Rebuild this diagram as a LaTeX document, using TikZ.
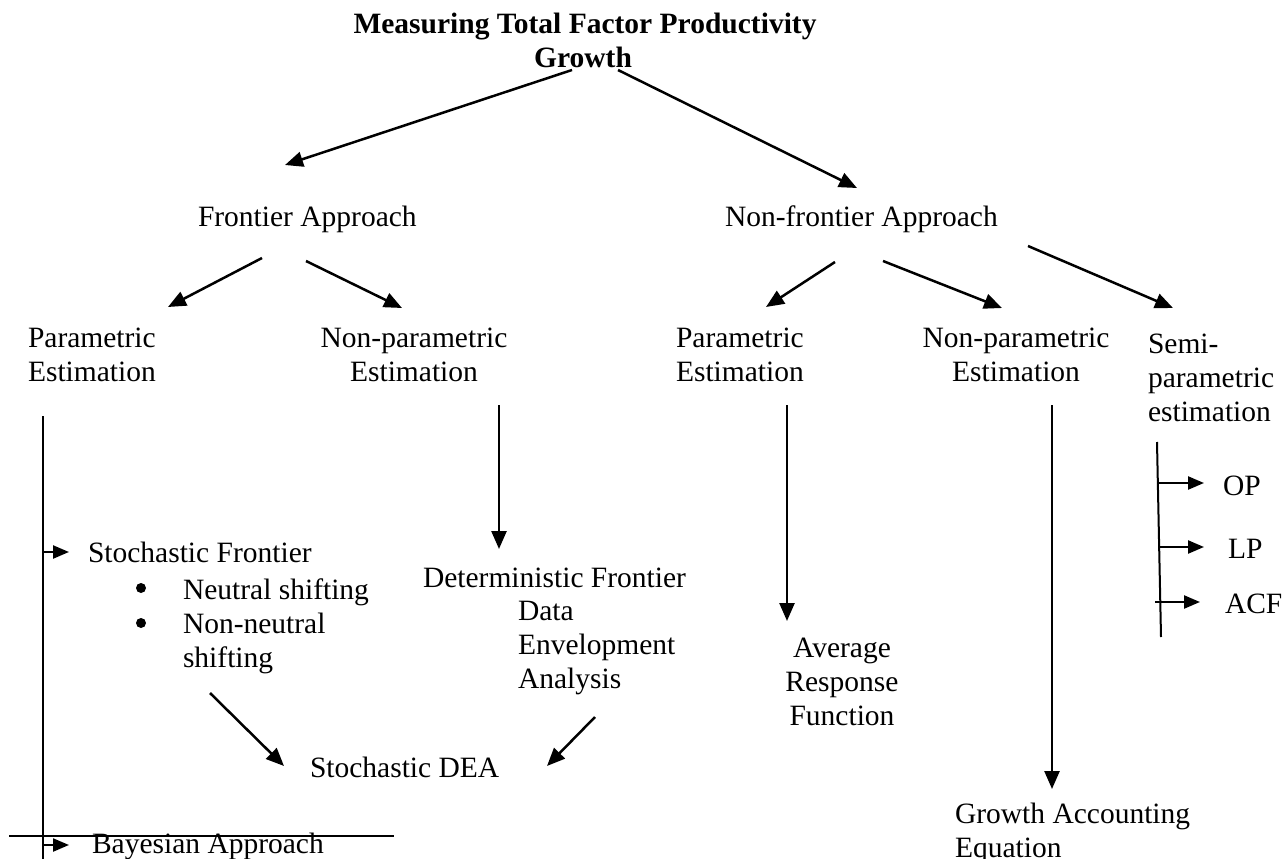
\documentclass[tikz,border=0pt]{standalone}
\usepackage{fontspec}
\setmainfont{Liberation Serif}
\usetikzlibrary{arrows.meta}
\begin{document}
\begin{tikzpicture}[x=1pt,y=-1pt,
  lbl/.style={inner sep=0pt, outer sep=0pt, font=\fontsize{29.5}{34}\selectfont},
  ttl/.style={inner sep=0pt, outer sep=0pt, font=\bfseries\fontsize{29.5}{34}\selectfont},
  arr/.style={line width=2.5pt, -{Triangle[length=18pt,width=15pt]}},
  sarr/.style={line width=2.3pt, -{Triangle[length=16pt,width=13pt]}},
  spine/.style={line width=2.3pt},
  bullet/.style={circle, fill=black, inner sep=0pt, minimum size=10pt}]
\useasboundingbox (0,0) rectangle (1288,859);

% title
\node[ttl, anchor=base] (title) at (585,34) {Measuring Total Factor Productivity};
\node[ttl, anchor=base] (title2) at (583,68) {Growth};

% level 1
\node[lbl, anchor=base west] (front) at (198,226) {Frontier Approach};
\node[lbl, anchor=base west] (nonfront) at (725,226) {Non-frontier Approach};

% level 2 (anchor base = baseline of the last line)
\node[lbl, anchor=base west, align=left] (p1) at (28,381) {Parametric\\Estimation};
\node[lbl, anchor=base, align=center] (np1) at (414,381) {Non-parametric\\Estimation};
\node[lbl, anchor=base west, align=left] (p2) at (676,381) {Parametric\\Estimation};
\node[lbl, anchor=base, align=center] (np2) at (1016,381) {Non-parametric\\Estimation};
\node[lbl, anchor=base west, align=left] (semi) at (1148,421) {Semi-\\parametric\\estimation};

% left branch
\node[lbl, anchor=base west] (sf) at (88,562) {Stochastic Frontier};
\node[bullet] (b1) at (141,588) {};
\node[bullet] (b2) at (141,623) {};
\node[lbl, anchor=base west, align=left] (neu) at (183,667) {Neutral shifting\\Non-neutral\\shifting};
\node[lbl, anchor=base west] (sdea) at (310,777) {Stochastic DEA};
\node[lbl, anchor=base west] (bay) at (92,853) {Bayesian Approach};

% middle
\node[lbl, anchor=base west] (det) at (423,587) {Deterministic Frontier};
\node[lbl, anchor=base west, align=left] (dea) at (518,688) {Data\\Envelopment\\Analysis};
\node[lbl, anchor=base, align=center] (arf) at (842,725) {Average\\Response\\Function};
\node[lbl, anchor=base west, align=left] (gae) at (955,857) {Growth Accounting\\Equation};

% semi-parametric items
\node[lbl, anchor=base west] (op) at (1223,495) {OP};
\node[lbl, anchor=base west] (lp) at (1228,558) {LP};
\node[lbl, anchor=base west] (acf) at (1225,613) {ACF};

% coordinates for connectors
\coordinate (tL) at (572,70);  \coordinate (tLe) at (285,165);
\coordinate (tR) at (618,70);  \coordinate (tRe) at (857,188);
\coordinate (fL) at (262,258); \coordinate (fLe) at (168,307);
\coordinate (fR) at (306,261); \coordinate (fRe) at (402,308);
\coordinate (nL) at (835,262); \coordinate (nLe) at (766,307);
\coordinate (nM) at (883,261); \coordinate (nMe) at (1002,308);
\coordinate (nR) at (1028,246); \coordinate (nRe) at (1173,308);
\coordinate (spT) at (43,416); \coordinate (spB) at (43,859);
\coordinate (spSF) at (43,552); \coordinate (spSFe) at (69,552);
\coordinate (spBA) at (43,845); \coordinate (spBAe) at (69,845);
\coordinate (np1s) at (499,405); \coordinate (np1e) at (499,549);
\coordinate (p2s) at (787,405); \coordinate (p2e) at (787,621);
\coordinate (np2s) at (1052,405); \coordinate (np2e) at (1052,789);
\coordinate (sfd) at (210,693); \coordinate (sfde) at (284,766);
\coordinate (dead) at (595,717); \coordinate (deade) at (547,766);
\coordinate (seT) at (1157,442); \coordinate (seB) at (1161,637);
\coordinate (op0) at (1159,483); \coordinate (op1) at (1204,483);
\coordinate (lp0) at (1159,547); \coordinate (lp1) at (1204,547);
\coordinate (acf0) at (1155,602); \coordinate (acf1) at (1200,602);
\coordinate (hl0) at (9,836); \coordinate (hl1) at (394,836);

% connectors
\draw[arr] (tL) -- (tLe);
\draw[arr] (tR) -- (tRe);
\draw[arr] (fL) -- (fLe);
\draw[arr] (fR) -- (fRe);
\draw[arr] (nL) -- (nLe);
\draw[arr] (nM) -- (nMe);
\draw[arr] (nR) -- (nRe);
\draw[spine] (spT) -- (spB);
\draw[sarr] (spSF) -- (spSFe);
\draw[sarr] (spBA) -- (spBAe);
\draw[arr] (np1s) -- (np1e);
\draw[arr] (p2s) -- (p2e);
\draw[arr] (np2s) -- (np2e);
\draw[arr] (sfd) -- (sfde);
\draw[arr] (dead) -- (deade);
\draw[line width=2pt] (seT) -- (seB);
\draw[sarr] (op0) -- (op1);
\draw[sarr] (lp0) -- (lp1);
\draw[sarr] (acf0) -- (acf1);
\draw[spine] (hl0) -- (hl1);
\end{tikzpicture}
\end{document}
